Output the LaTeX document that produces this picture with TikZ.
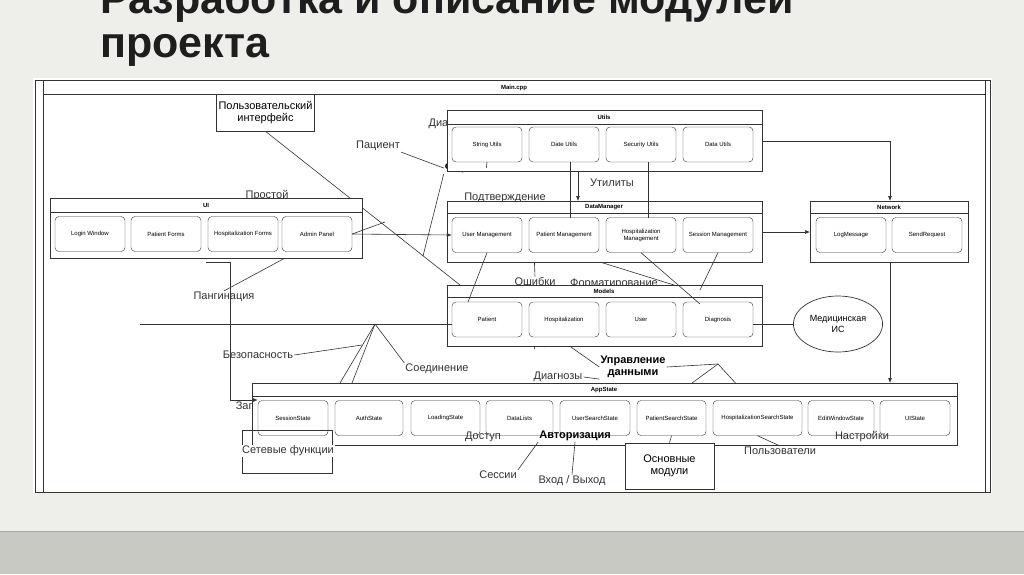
\documentclass[tikz,border=0pt]{standalone}
\usepackage{fontspec}
\setmainfont{Liberation Sans}
\usetikzlibrary{arrows.meta,shapes.geometric}
\definecolor{slidebg}{HTML}{EEEEEA}
\definecolor{band}{HTML}{C8C9C3}
\definecolor{ttl}{HTML}{1E1E1E}
\definecolor{ln}{HTML}{333333}
\tikzset{
  cbox/.style={draw=ln,fill=white,rounded corners=4pt,minimum width=70pt,minimum height=35pt,inner sep=1pt,font=\fontsize{6}{7}\selectfont,align=center},
  cont/.style={draw=ln,fill=white,line width=0.6pt},
  ctitle/.style={font=\fontsize{6}{7}\selectfont\bfseries},
  lbl/.style={font=\fontsize{11}{12}\selectfont,text=ln,inner sep=1pt},
  blbl/.style={font=\fontsize{11}{12}\selectfont\bfseries,text=black,inner sep=1pt,align=center},
  sq/.style={draw=ln,fill=white,line width=0.7pt,font=\fontsize{11}{12}\selectfont,align=center,inner sep=2pt},
  wire/.style={draw=ln,line width=0.6pt},
  arr/.style={wire,-{Latex[length=5pt,width=4pt]}}
}
\begin{document}
\begin{tikzpicture}[x=1pt,y=-1pt]
\useasboundingbox (0,0) rectangle (1024,574);
\fill[slidebg] (0,0) rectangle (1024,574);
\fill[band] (0,532) rectangle (1024,574);
\draw[gray!70,line width=1pt] (0,531) -- (1024,531);
\node[anchor=west,font=\fontsize{43}{46}\selectfont\bfseries,text=ttl,inner sep=0pt] (t1) at (100,2) {Разработка и описание модулей};
\node[anchor=west,font=\fontsize{43}{46}\selectfont\bfseries,text=ttl,inner sep=0pt] (t2) at (100,50) {проекта};
% diagram frame
\fill[white] (33,78) rectangle (992,493);
\draw[ln,line width=0.8pt] (35,80) rectangle (990,492);
\draw[ln,line width=0.6pt] (43,80) -- (43,492);
\draw[ln,line width=0.6pt] (985,80) -- (985,492);
\draw[ln,line width=0.6pt] (43,94) -- (985,94);
\node[ctitle] (main) at (514,88) {Main.cpp};
% partially hidden labels
\node[lbl] (ldiag) at (449,124) {Диагноз};
\node[lbl] (lpros) at (267,196) {Простой};
\node[lbl] (lpodt) at (505,198) {Подтверждение};
\node[lbl] (lpoisk) at (285,253) {\bfseries Поиск};
\node[lbl] (ldata) at (742,254) {Дата};
\node[lbl] (lzapr) at (254,407) {Запрос};
\node[lbl] (lfmt) at (614,284) {Форматирование};
% free wires
\coordinate (a1) at (140,324);
\coordinate (p1) at (206,262);
\coordinate (p2) at (230,262);
\coordinate (p3) at (230,400);
\coordinate (j1) at (375,324);
\coordinate (j2) at (718,364);
\coordinate (f1) at (423,256);
\coordinate (q1) at (385,222);
\node[sq,minimum width=89pt,minimum height=37pt] (ui0) at (265.5,112.5) {Пользовательский\\интерфейс};
\node[lbl] (lpac) at (378,146) {Пациент};
\node[blbl] (lform) at (465,168) {Формы};
\node[lbl] (lpag) at (224,297) {Пангинация};
\node[lbl] (lutil) at (612,183) {Утилиты};
\node[lbl] (lcrypt) at (598,254) {Криптография};
\node[lbl] (lerr) at (535,282) {Ошибки};
\node[lbl] (lpacs) at (541,345) {Пациенты};
\node[lbl] (lsec) at (258,355) {Безопасность};
\node[lbl] (lconn) at (437,369) {Соединение};
\node[blbl] (lupr) at (633,367) {Управление\\данными};
\node[lbl] (ldiags) at (558,377) {Диагнозы};
\draw[wire] (ui0.south) -- (460,285);
\draw[wire] (lpac.south east) -- (lform.west);
\draw[wire] (lform.south west) -- (f1);
\draw[wire] (lpros.south) -- (282,246);
\draw[wire] (lpoisk.south) -- (lpag.north);
\draw[wire] (p1) -- (p2) -- (p3);
\draw[wire] (j1) -- (340,383);
\draw[wire] (j1) -- (352,383);
\draw[wire] (362,345) -- (lsec.east);
\draw[wire] (j1) -- (lconn.north west);
\draw[wire] (lpacs.east) -- (lupr.west);
\draw[wire] (ldiags.east) -- (lupr.south west);
\draw[wire] (lupr.east) -- (j2);
\draw[wire] (j2) -- (692,383);
\draw[wire] (j2) -- (740,388);
\draw[wire] (lerr.north) -- (534,252);
\draw[wire] (600,262) -- (690,290);
% Utils
\draw[cont] (447,110) rectangle (762,171); \draw[ln] (447,124) -- (762,124);
\node[ctitle] (utils) at (604,117) {Utils};
\node[cbox] (su) at (487,144.5) {String Utils};
\node[cbox] (du) at (564,144.5) {Date Utils};
\node[cbox] (secu) at (641,144.5) {Security Utils};
\node[cbox] (dau) at (718,144.5) {Data Utils};
\draw[wire] (lform.east) -- (su.south);
% DataManager
\draw[cont] (447,201) rectangle (762,262); \draw[ln] (447,213) -- (762,213);
\node[ctitle] (dm) at (604,207) {DataManager};
\node[cbox] (um) at (487,235) {User Management};
\node[cbox] (pm) at (564,235) {Patient Management};
\node[cbox] (hm) at (641,235) {Hospitalization\\Management};
\node[cbox] (sm) at (718,235) {Session Management};
\draw[arr] (578,171) -- (578,201);
\draw[wire] (570,162) -- (570,218);
\draw[wire] (648,162) -- (648,218);
% Network
\draw[cont] (810,201) rectangle (968,262); \draw[ln] (810,213) -- (968,213);
\node[ctitle] (net) at (889,207) {Network};
\node[cbox] (lm) at (851,235) {LogMessage};
\node[cbox] (sr) at (927,235) {SendRequest};
\draw[arr] (762,141) -- (890,141) -- (890,201);
\draw[arr] (762,232) -- (810,232);
% UI
\draw[cont] (50,198) rectangle (362,258); \draw[ln] (50,212) -- (362,212);
\node[ctitle] (ui) at (206,205) {UI};
\node[cbox] (lw) at (90,234) {Login Window};
\node[cbox] (pf) at (166,234) {Patient Forms};
\node[cbox] (hf) at (243,234) {Hospitalization Forms};
\node[cbox] (ap) at (317,234) {Admin Panel};
\draw[arr] (ap.east) -- (um.west);
\draw[wire] (ap.east) -- (q1);
% Models
\draw[cont] (447,285) rectangle (762,346); \draw[ln] (447,297) -- (762,297);
\node[ctitle] (models) at (604,291) {Models};
\node[cbox] (pat) at (487,319.5) {Patient};
\node[cbox] (hos) at (564,319.5) {Hospitalization};
\node[cbox] (usr) at (641,319.5) {User};
\node[cbox] (dia) at (718,319.5) {Diagnosis};
\draw[wire] (a1) -- (pat.west |- a1);
\draw[wire] (um.south) -- (468,302);
\draw[wire] (hm.south) -- (700,304);
\draw[wire] (sm.south) -- (700,290);
\node[draw=ln,fill=white,ellipse,minimum width=84pt,minimum height=56pt,line width=0.7pt,font=\fontsize{9}{10.5}\selectfont,align=center] (mis) at (838,324) {Медицинская\\ИС};
\draw[wire] (dia.east |- mis) -- (mis.west);
% AppState
\draw[cont] (252,383) rectangle (957,445); \draw[ln] (252,396) -- (957,396);
\node[ctitle] (as) at (604,390) {AppState};
\node[cbox] (ss) at (293,418) {SessionState};
\node[cbox,minimum width=68pt] (aus) at (369,418) {AuthState};
\node[cbox,minimum width=69pt] (los) at (445.5,418) {LoadingState};
\node[cbox,minimum width=67pt] (dl) at (519.5,418) {DataLists};
\node[cbox] (uss) at (595,418) {UserSearchState};
\node[cbox,minimum width=69pt] (pss) at (671.5,418) {PatientSearchState};
\node[cbox,minimum width=89pt] (hss) at (757.5,418) {HospitalizationSearchState};
\node[cbox,minimum width=66pt] (ews) at (841,418) {EditWindowState};
\node[cbox] (uis) at (915,418) {UIState};
\draw[arr] (890,262) -- (890,383);
\draw[arr] (p3) -- (ss.west |- p3);
% bottom labels
\node[sq,minimum width=90pt,minimum height=43pt,anchor=north west,fill=none] (sf) at (242,430) {};
\node[lbl,fill=white] (lsf) at (288,451) {Сетевые функции};
\node[lbl] (ldost) at (483,437) {Доступ};
\node[blbl] (lauth) at (575,436) {Авторизация};
\node[lbl] (lsess) at (498,475) {Сессии};
\node[lbl] (lvh) at (572,481) {Вход / Выход};
\node[lbl] (lusers) at (780,451) {Пользователи};
\node[lbl] (lset) at (862,437) {Настройки};
\node[sq,minimum width=89pt,minimum height=46pt] (om) at (669.5,466) {Основные\\модули};
\draw[wire] (lsess.north east) -- (lauth.south west);
\draw[wire] (lvh.north) -- (lauth.south);
\draw[wire] (om.north) -- (pss.south);
\draw[wire] (lusers.north) -- (hss.south);
\end{tikzpicture}
\end{document}
